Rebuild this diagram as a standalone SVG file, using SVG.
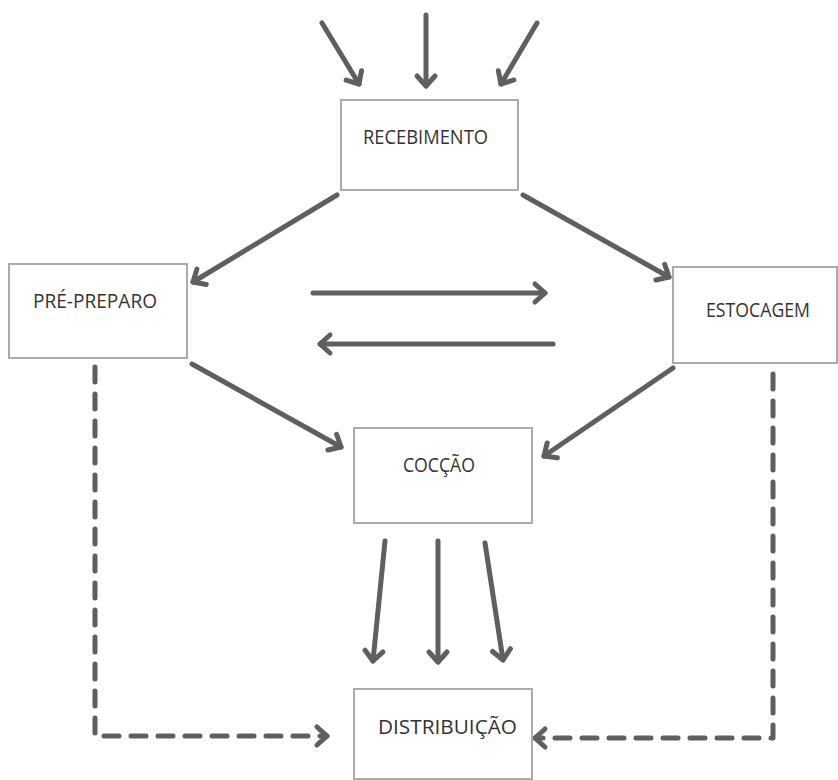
<svg xmlns="http://www.w3.org/2000/svg" width="838" height="780" viewBox="0 0 838 780">
  <defs>
    <marker id="chev" markerUnits="userSpaceOnUse" markerWidth="30" markerHeight="30" viewBox="-15 -15 30 30" refX="0" refY="0" orient="auto">
      <path d="M-10,-9 L0,0 L-10,9" fill="none" stroke="#5f5f5f" stroke-width="5" stroke-linecap="round" stroke-linejoin="round"/>
    </marker>
  </defs>
  <style>
    .box { fill: #ffffff; stroke: #ababab; stroke-width: 2; }
    .lbl { font-family: "Open Sans", "Noto Sans", "DejaVu Sans", sans-serif; font-size: 19.5px; fill: #333333; }
    .arr { fill: none; stroke: #5f5f5f; stroke-width: 5; stroke-linecap: round; stroke-linejoin: round; marker-end: url(#chev); }
    .dash { stroke-dasharray: 15 12; }
  </style>
  <rect width="838" height="780" fill="#ffffff"/>

  <g id="connectors">
    <!-- incoming supplies -->
    <line class="arr" x1="322" y1="23" x2="359" y2="84"/>
    <line class="arr" x1="426" y1="15" x2="426" y2="86"/>
    <line class="arr" x1="537" y1="23" x2="501" y2="84"/>
    <!-- from receiving -->
    <line class="arr" x1="337" y1="195" x2="193" y2="282"/>
    <line class="arr" x1="523" y1="195" x2="669" y2="277"/>
    <!-- between prep and storage -->
    <line class="arr" x1="313" y1="293" x2="545" y2="293"/>
    <line class="arr" x1="553" y1="344" x2="320" y2="344"/>
    <!-- to cooking -->
    <line class="arr" x1="192" y1="364" x2="341" y2="447"/>
    <line class="arr" x1="673" y1="368" x2="544" y2="456"/>
    <!-- cooking to distribution -->
    <line class="arr" x1="385" y1="541" x2="373" y2="661"/>
    <line class="arr" x1="438" y1="541" x2="438" y2="662"/>
    <line class="arr" x1="485" y1="543" x2="503" y2="660"/>
    <!-- direct routes to distribution -->
    <path class="arr dash" d="M95,367 V736 H327"/>
    <path class="arr dash" d="M773,374 V738 H535"/>
  </g>

  <g id="recebimento">
    <rect class="box" x="341" y="100" width="177" height="90"/>
    <text class="lbl" x="363" y="144" textLength="125" lengthAdjust="spacingAndGlyphs">RECEBIMENTO</text>
  </g>
  <g id="pre-preparo">
    <rect class="box" x="9" y="264" width="178" height="94"/>
    <text class="lbl" x="33" y="308" textLength="124" lengthAdjust="spacingAndGlyphs">PRÉ-PREPARO</text>
  </g>
  <g id="estocagem">
    <rect class="box" x="673" y="267" width="164" height="96"/>
    <text class="lbl" x="706" y="317" textLength="104" lengthAdjust="spacingAndGlyphs">ESTOCAGEM</text>
  </g>
  <g id="coccao">
    <rect class="box" x="354" y="428" width="178" height="95"/>
    <text class="lbl" x="403" y="472" textLength="72" lengthAdjust="spacingAndGlyphs">COCÇÃO</text>
  </g>
  <g id="distribuicao">
    <rect class="box" x="354" y="689" width="178" height="90"/>
    <text class="lbl" x="378" y="734" textLength="139" lengthAdjust="spacingAndGlyphs">DISTRIBUIÇÃO</text>
  </g>
</svg>
